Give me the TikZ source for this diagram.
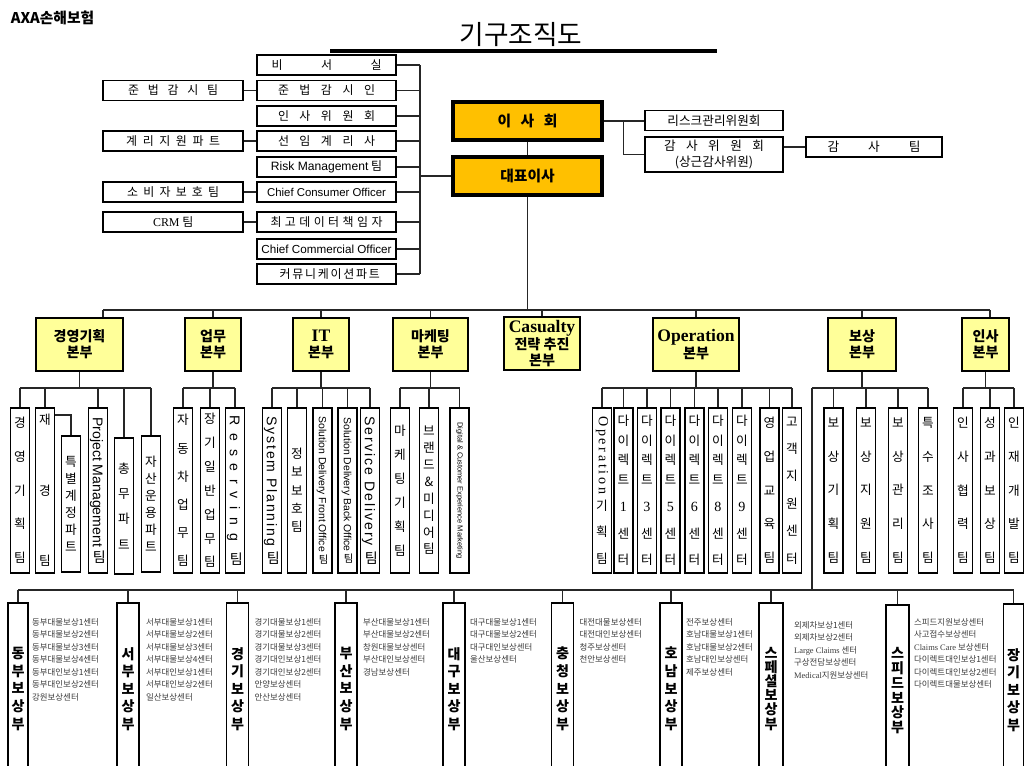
\documentclass[tikz,border=0pt]{standalone}
\usepackage{fontspec}
\setmainfont{Noto Sans CJK KR}
\newfontfamily\lserif{Liberation Serif}
\newfontfamily\lsans{Liberation Sans}
\usetikzlibrary{positioning,calc}
\definecolor{pgold}{HTML}{FFC000}
\definecolor{pyellow}{HTML}{FFFF99}
\definecolor{pgrayd}{HTML}{3C3C3C}
\newlength{\px}\setlength{\px}{0.025cm}
\newcommand{\spaced}[2]{\makebox[#1][s]{#2}}
\newcommand{\upko}[1]{\rotatebox{90}{\rmfamily #1}}
\tikzset{
  % one unit of the picture is one pixel of the page
  wire/.style    = {line width=0.9pt, black!85},
  staff/.style   = {draw, line width=1.3pt, fill=white, minimum width=139\px, minimum height=20\px,
                    inner sep=0pt, font=\fontsize{8.5}{10}\selectfont},
  sidebox/.style = {staff, minimum width=140\px},
  board/.style   = {draw, line width=2.2pt, fill=pgold, minimum width=149\px, minimum height=38\px,
                    inner sep=0pt, font=\fontsize{10.5}{12}\selectfont\bfseries},
  comm/.style    = {staff, minimum width=138\px, line width=1.1pt, align=center,
                    font=\fontsize{9}{12}\selectfont},
  hq/.style      = {draw, line width=1.5pt, fill=pyellow, minimum height=53\px, anchor=north,
                    align=center, inner sep=0pt, font=\fontsize{10}{11.5}\selectfont\bfseries},
  team/.style    = {draw, line width=1.3pt, fill=white, minimum width=19\px, minimum height=165\px,
                    anchor=north, inner sep=0pt, align=center, font=\fontsize{9}{#1}\selectfont},
  team/.default  = 17pt,
  lowtop/.style  = {minimum height=136\px},
  region/.style  = {draw, line width=1.3pt, fill=white, minimum width=22\px, minimum height=172\px,
                    anchor=north, inner sep=0pt, align=center, font=\fontsize{10}{#1}\selectfont\bfseries},
  region/.default = 12.5pt,
  centres/.style = {anchor=north west, align=left, inner sep=0pt, text=pgrayd,
                    font=\fontsize{6}{8.9}\selectfont},
}
\begin{document}
\begin{tikzpicture}[x=0.025cm,y=-0.025cm]
\useasboundingbox (0,0) rectangle (1025,765);
\fill[white] (0,0) rectangle (1025,765);
\clip (0,0) rectangle (1025,765);

% heading
\node[anchor=west, font=\fontsize{10.5}{12}\selectfont\bfseries] (co) at (6,18) {AXA손해보험};
\node[font=\fontsize{19}{22}\selectfont] (ttl) at (521,35) {기구조직도};
\draw[line width=2.4pt] (330,51) -- (717,51);

% staff column
\node[staff] (s1) at (326.5,65)  {\spaced{110\px}{비 서 실}};
\node[staff] (s2) at (326.5,90.5) {\spaced{97\px}{준 법 감 시 인}};
\node[staff] (s3) at (326.5,116) {\spaced{97\px}{인 사 위 원 회}};
\node[staff] (s4) at (326.5,141) {\spaced{97\px}{선 임 계 리 사}};
\node[staff] (s5) at (326.5,167) {{\lsans\fontsize{8.6}{10}\selectfont Risk Management} 팀};
\node[staff] (s6) at (326.5,192) {\lsans\fontsize{8.1}{10}\selectfont Chief Consumer Officer};
\node[staff] (s7) at (326.5,222) {\spaced{112\px}{최 고 데 이 터 책 임 자}};
\node[staff] (s8) at (326.5,249) {\lsans\fontsize{8.3}{10}\selectfont Chief Commercial Officer};
\node[staff] (s9) at (326.5,274) {\spaced{94\px}{커 뮤 니 케 이 션 파 트}};

\node[sidebox, left=12\px of s2] (c2) {\spaced{90\px}{준 법 감 시 팀}};
\node[sidebox, left=12\px of s4] (c4) {\spaced{94\px}{계 리 지 원 파 트}};
\node[sidebox, left=12\px of s6] (c6) {\spaced{92\px}{소 비 자 보 호 팀}};
\node[sidebox, left=12\px of s7] (c7) {{\lserif CRM} 팀};
\foreach \a/\b in {c2/s2, c4/s4, c6/s6, c7/s7}
  \draw[wire] (\a) -- (\b);

% board and CEO
\node[board] (bod) at (527.5,121) {\spaced{60\px}{이 사 회}};
\node[board] (ceo) at (527.5,176) {대표이사};
\draw[wire] (bod) -- (ceo);
\coordinate (sbus) at (420,176);
\foreach \s in {s1,s2,s3,s4,s5,s6,s7,s8,s9}
  \draw[wire] (\s.east) -- (\s.east -| sbus);
\draw[wire] (s1.east -| sbus) -- (s9.east -| sbus);
\draw[wire] (sbus) -- (ceo.west);

\node[comm] (risk) at (714,120.5) {리스크관리위원회};
\node[comm, minimum height=35\px] (audc) at (714,154.5) {\spaced{100\px}{감 사 위 원 회}\\(상근감사위원)};
\node[comm, minimum width=136\px] (audt) at (874,147) {\spaced{93\px}{감 사 팀}};
\coordinate (bj) at ($(bod.east)+(20,0)$);
\draw[wire] (bod.east) -- (bod.east -| risk.west);
\draw[wire] (bj) |- (audc.west);
\draw[wire] (audc.east |- audt.west) -- (audt.west);

% divisions
\node[hq, minimum width=87\px] (d1) at (79.5,317) {경영기획\\본부};
\node[hq, minimum width=56\px] (d2) at (213,317)  {업무\\본부};
\node[hq, minimum width=56\px] (d3) at (321,317)  {{\lserif\bfseries\fontsize{12.5}{12}\selectfont IT}\\본부};
\node[hq, minimum width=75\px] (d4) at (430.5,317) {마케팅\\본부};
\node[hq, minimum width=76\px, font=\fontsize{10}{10.7}\selectfont\bfseries] (d5) at (542,316)
     {{\lserif\bfseries\fontsize{12.5}{12}\selectfont Casualty}\\전략 추진\\본부};
\node[hq, minimum width=86\px] (d6) at (696,317)  {{\lserif\bfseries\fontsize{12.5}{12}\selectfont Operation}\\본부};
\node[hq, minimum width=68\px] (d7) at (862,317)  {보상\\본부};
\node[hq, minimum width=47\px] (d8) at (985.5,317) {인사\\본부};

\coordinate (dbus) at (527.5,310);
\coordinate (d1top) at ($(d1.north)+(23.5,0)$);
\coordinate (d8top) at ($(d8.north)+(4.5,0)$);
\draw[wire] (ceo.south) -- (dbus);
\draw[wire] (d1top |- dbus) -- (d8top |- dbus);
\draw[wire] (d1top |- dbus) -- (d1top);
\draw[wire] (d8top |- dbus) -- (d8top);
\foreach \d in {d2,d3,d4,d5,d6,d7}
  \draw[wire] (\d.north |- dbus) -- (\d.north);

% teams
\node[team=24pt] (t11) at (20,407) {경\\영\\기\\획\\팀};
\node[team=50pt] (t12) at (45,407) {재\\경\\팀};
\node[team=12pt, lowtop] (t13) at (71,435) {특\\별\\계\\정\\파\\트};
\node[team] (t14) at (98,407) {\rotatebox{-90}{\lsans\fontsize{10}{12}\selectfont Project Management \upko{팀}}};
\node[team=18pt, lowtop] (t15) at (124,437) {총\\무\\파\\트};
\node[team=12pt, lowtop] (t16) at (151,435) {자\\산\\운\\용\\파\\트};

\node[team=20pt] (t21) at (183,407) {자\\동\\차\\업\\무\\팀};
\node[team=17pt] (t22) at (210,407) {장\\기\\일\\반\\업\\무\\팀};
\node[team] (t23) at (235,407) {\rotatebox{-90}{\lsans\fontsize{10}{12}\selectfont\addfontfeature{LetterSpace=55}Reserving \upko{팀}}};

\node[team] (t31) at (272,407) {\rotatebox{-90}{\lsans\fontsize{10}{12}\selectfont\addfontfeature{LetterSpace=13}System Planning \upko{팀}}};
\node[team=13pt] (t32) at (297,407) {정\\보\\보\\호\\팀};
\node[team] (t33) at (322.5,407) {\rotatebox{-90}{\lsans\fontsize{7.4}{9}\selectfont Solution Delivery Front Office \upko{팀}}};
\node[team] (t34) at (347.5,407) {\rotatebox{-90}{\lsans\fontsize{7.4}{9}\selectfont Solution Delivery Back Office \upko{팀}}};
\node[team] (t35) at (370,407) {\rotatebox{-90}{\lsans\fontsize{10}{12}\selectfont\addfontfeature{LetterSpace=14}Service Delivery \upko{팀}}};

\node[team=17pt] (t41) at (400,407) {마\\케\\팅\\기\\획\\팀};
\node[team=12pt] (t42) at (429,407) {브\\랜\\드\\\&\\미\\디\\어\\팀};
\node[team] (t43) at (459.5,407) {\rotatebox{-90}{\lsans\fontsize{5.3}{6}\selectfont Digital \& Customer Experience Marketing}};

\node[team=19pt] (t51) at (602,407) {\rotatebox{-90}{\lserif\fontsize{10}{12}\selectfont\addfontfeature{LetterSpace=19}Operation}\\[3pt]기\\획\\팀};
\foreach \n/\x/\c in {2/623.5/1, 3/647/3, 4/670.5/5, 5/694.5/6, 6/718/8, 7/742/9}
  \node[team=14pt] (t5\n) at (\x,407) {다\\이\\렉\\트\\[5pt]{\lserif\fontsize{10}{12}\selectfont\c}\\[5pt]센\\[5pt]터};
\node[team=24pt] (t58) at (769.5,407) {영\\업\\교\\육\\팀};
\node[team=19.5pt] (t59) at (792,407) {고\\객\\지\\원\\센\\터};

\node[team=24pt] (t61) at (833.5,407) {보\\상\\기\\획\\팀};
\node[team=24pt] (t62) at (866,407) {보\\상\\지\\원\\팀};
\node[team=24pt] (t63) at (898,407) {보\\상\\관\\리\\팀};
\node[team=24pt] (t64) at (928,407) {특\\수\\조\\사\\팀};

\node[team=24pt] (t71) at (963,407) {인\\사\\협\\력\\팀};
\node[team=24pt] (t72) at (990,407) {성\\과\\보\\상\\팀};
\node[team=24pt] (t73) at (1014,407) {인\\재\\개\\발\\팀};

\coordinate (tbus) at (0,388);
\foreach \d in {d1,d2,d3,d4,d6,d7,d8}
  \draw[wire] (\d.south) -- (\d.south |- tbus);
\draw[wire] (t11.north |- tbus) -- (t16.north |- tbus);
\draw[wire] (t21.north |- tbus) -- (t23.north |- tbus);
\draw[wire] (t31.north |- tbus) -- (t35.north |- tbus);
\draw[wire] (t41.north |- tbus) -- (t43.north |- tbus);
\draw[wire] (t51.north |- tbus) -- (t59.north |- tbus);
\draw[wire] (t71.north |- tbus) -- (t73.north |- tbus);
\foreach \t in {t11,t12,t14,t15,t16,t21,t22,t23,t31,t32,t33,t34,t35,t41,t42,t43,
                t51,t52,t53,t54,t55,t56,t57,t58,t59,t61,t62,t63,t64,t71,t72,t73}
  \draw[wire] (\t.north |- tbus) -- (\t.north);
\draw[wire] ([yshift=-8\px]t12.north east) -| (t13.north);

% claims departments
\coordinate (rjoin) at (812,388);
\coordinate (rbus) at (0,590);
\draw[wire] (rjoin) -- (t64.north |- tbus);
\draw[wire] (rjoin) -- (rjoin |- rbus);

\node[region, minimum width=20\px] (r1) at (18,602) {동\\부\\보\\상\\부};
\node[region] (r2) at (128,602) {서\\부\\보\\상\\부};
\node[region] (r3) at (237.5,602) {경\\기\\보\\상\\부};
\node[region] (r4) at (346,602) {부\\산\\보\\상\\부};
\node[region] (r5) at (454,602) {대\\구\\보\\상\\부};
\node[region] (r6) at (562.5,602) {충\\청\\보\\상\\부};
\node[region] (r7) at (671,602) {호\\남\\보\\상\\부};
\node[region=10pt, minimum width=24\px] (r8) at (771,602) {스\\페\\셜\\보\\상\\부};
\node[region=10.5pt, minimum width=23\px] (r9) at (897.5,604) {스\\피\\드\\보\\상\\부};
\node[region, minimum width=20\px] (r10) at (1013.5,603) {장\\기\\보\\상\\부};
\draw[wire] (r1.north |- rbus) -- (r10.north |- rbus);
\foreach \r in {r1,r2,r3,r4,r5,r6,r7,r8,r9,r10}
  \draw[wire] (\r.north |- rbus) -- (\r.north);

\node[centres] (l1) at ([xshift=3\px, yshift=-16\px]r1.north east)
  {동부대물보상1센터\\동부대물보상2센터\\동부대물보상3센터\\동부대물보상4센터\\동부대인보상1센터\\동부대인보상2센터\\강원보상센터};
\node[centres] (l2) at ([xshift=6\px, yshift=-16\px]r2.north east)
  {서부대물보상1센터\\서부대물보상2센터\\서부대물보상3센터\\서부대물보상4센터\\서부대인보상1센터\\서부대인보상2센터\\일산보상센터};
\node[centres] (l3) at ([xshift=5\px, yshift=-16\px]r3.north east)
  {경기대물보상1센터\\경기대물보상2센터\\경기대물보상3센터\\경기대인보상1센터\\경기대인보상2센터\\안양보상센터\\안산보상센터};
\node[centres] (l4) at ([xshift=5\px, yshift=-16\px]r4.north east)
  {부산대물보상1센터\\부산대물보상2센터\\창원대물보상센터\\부산대인보상센터\\경남보상센터};
\node[centres] (l5) at ([xshift=4\px, yshift=-16\px]r5.north east)
  {대구대물보상1센터\\대구대물보상2센터\\대구대인보상센터\\울산보상센터};
\node[centres] (l6) at ([xshift=5\px, yshift=-16\px]r6.north east)
  {대전대물보상센터\\대전대인보상센터\\청주보상센터\\천안보상센터};
\node[centres] (l7) at ([xshift=3\px, yshift=-16\px]r7.north east)
  {전주보상센터\\호남대물보상1센터\\호남대물보상2센터\\호남대인보상센터\\제주보상센터};
\node[centres] (l8) at ([xshift=10\px, yshift=-19\px]r8.north east)
  {외제차보상1센터\\외제차보상2센터\\{\lserif Large Claims} 센터\\구상전담보상센터\\{\lserif Medical}지원보상센터};
\node[centres] (l9) at ([xshift=4\px, yshift=-14\px]r9.north east)
  {스피드지원보상센터\\사고접수보상센터\\{\lserif Claims Care} 보상센터\\다이렉트대인보상1센터\\다이렉트대인보상2센터\\다이렉트대물보상센터};
\end{tikzpicture}
\end{document}
